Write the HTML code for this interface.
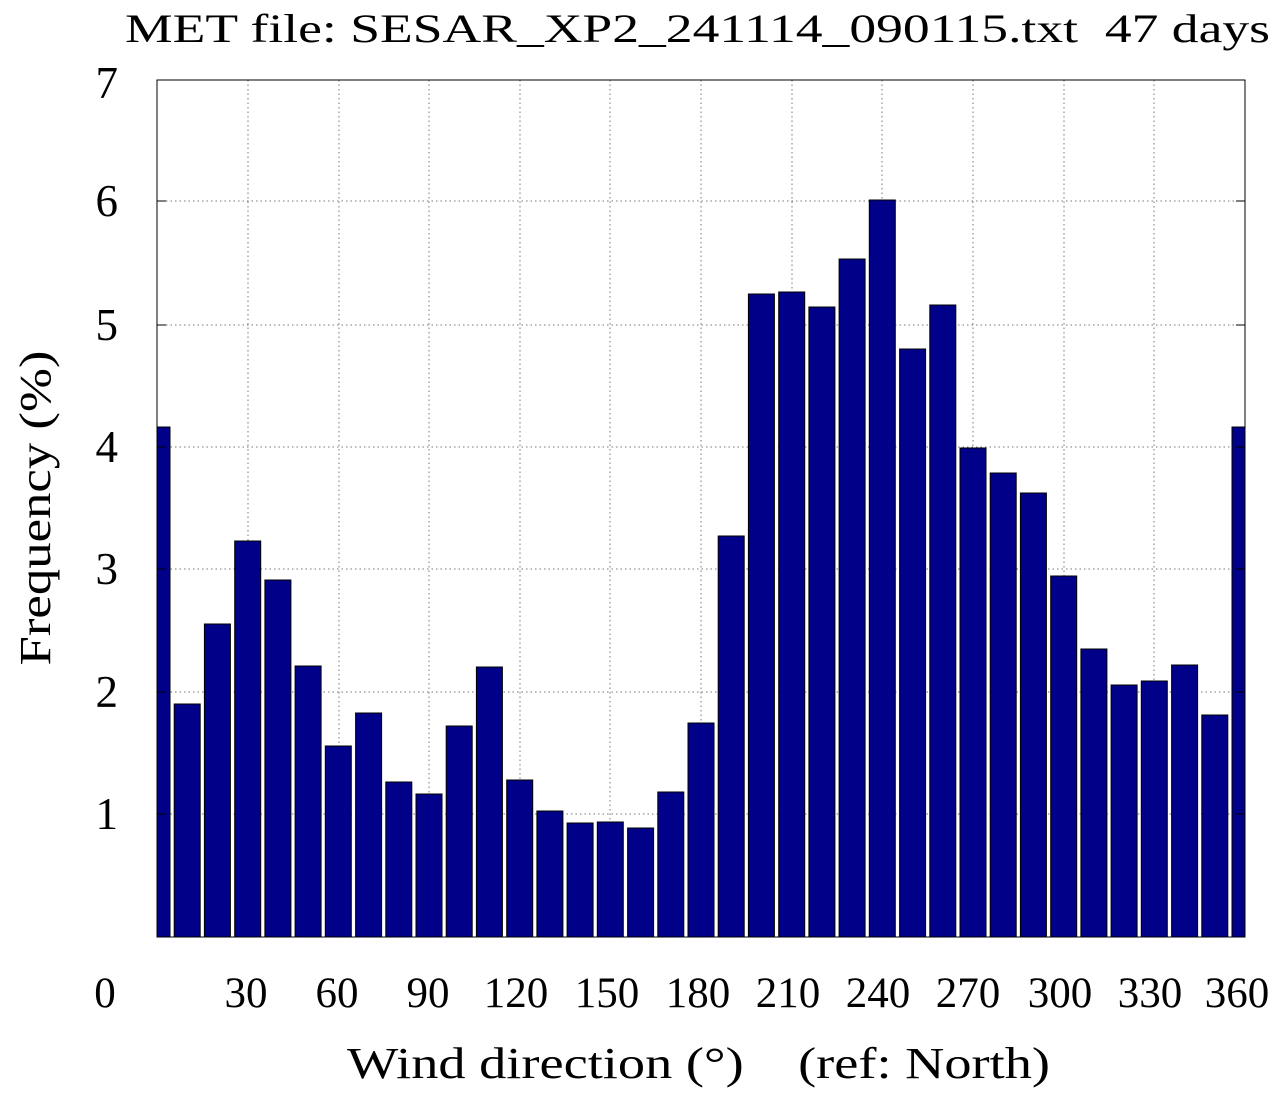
<!DOCTYPE html>
<html><head><meta charset="utf-8"><style>body{margin:0;background:#fff}svg{display:block}</style></head>
<body>
<svg width="1280" height="1093" xmlns="http://www.w3.org/2000/svg" font-family="Liberation Serif, serif">
<defs><clipPath id="c"><rect x="157" y="80" width="1088" height="857"/></clipPath></defs>
<g stroke="#777" stroke-width="1" stroke-dasharray="1.5,3">
<line x1="157" x2="1245" y1="814" y2="814"/><line x1="157" x2="1245" y1="692" y2="692"/>
<line x1="157" x2="1245" y1="569" y2="569"/><line x1="157" x2="1245" y1="447" y2="447"/>
<line x1="157" x2="1245" y1="325" y2="325"/><line x1="157" x2="1245" y1="201" y2="201"/>
<line x1="248" x2="248" y1="80" y2="937"/><line x1="339" x2="339" y1="80" y2="937"/>
<line x1="429" x2="429" y1="80" y2="937"/><line x1="520" x2="520" y1="80" y2="937"/>
<line x1="610" x2="610" y1="80" y2="937"/><line x1="701" x2="701" y1="80" y2="937"/>
<line x1="792" x2="792" y1="80" y2="937"/><line x1="882" x2="882" y1="80" y2="937"/>
<line x1="973" x2="973" y1="80" y2="937"/><line x1="1064" x2="1064" y1="80" y2="937"/>
<line x1="1154" x2="1154" y1="80" y2="937"/>
</g>
<g clip-path="url(#c)" fill="#000088" stroke="#000" stroke-width="1">
<rect x="144" y="427" width="26" height="510"/>
<rect x="174.2" y="704" width="26" height="233"/>
<rect x="204.4" y="624" width="26" height="313"/>
<rect x="234.7" y="541" width="26" height="396"/>
<rect x="264.9" y="580" width="26" height="357"/>
<rect x="295.1" y="666" width="26" height="271"/>
<rect x="325.3" y="746" width="26" height="191"/>
<rect x="355.6" y="713" width="26" height="224"/>
<rect x="385.8" y="782" width="26" height="155"/>
<rect x="416.0" y="794" width="26" height="143"/>
<rect x="446.2" y="726" width="26" height="211"/>
<rect x="476.4" y="667" width="26" height="270"/>
<rect x="506.7" y="780" width="26" height="157"/>
<rect x="536.9" y="811" width="26" height="126"/>
<rect x="567.1" y="823" width="26" height="114"/>
<rect x="597.3" y="822" width="26" height="115"/>
<rect x="627.6" y="828" width="26" height="109"/>
<rect x="657.8" y="792" width="26" height="145"/>
<rect x="688.0" y="723" width="26" height="214"/>
<rect x="718.2" y="536" width="26" height="401"/>
<rect x="748.4" y="294" width="26" height="643"/>
<rect x="778.7" y="292" width="26" height="645"/>
<rect x="808.9" y="307" width="26" height="630"/>
<rect x="839.1" y="259" width="26" height="678"/>
<rect x="869.3" y="200" width="26" height="737"/>
<rect x="899.6" y="349" width="26" height="588"/>
<rect x="929.8" y="305" width="26" height="632"/>
<rect x="960.0" y="448" width="26" height="489"/>
<rect x="990.2" y="473" width="26" height="464"/>
<rect x="1020.4" y="493" width="26" height="444"/>
<rect x="1050.7" y="576" width="26" height="361"/>
<rect x="1080.9" y="649" width="26" height="288"/>
<rect x="1111.1" y="685" width="26" height="252"/>
<rect x="1141.3" y="681" width="26" height="256"/>
<rect x="1171.6" y="665" width="26" height="272"/>
<rect x="1201.8" y="715" width="26" height="222"/>
<rect x="1232" y="427" width="26" height="510"/>
</g>
<rect x="157" y="80" width="1088" height="857" fill="none" stroke="#000" stroke-width="1"/>
<g stroke="#000">
<line x1="157" x2="166" y1="814" y2="814"/><line x1="157" x2="166" y1="692" y2="692"/><line x1="157" x2="166" y1="569" y2="569"/><line x1="157" x2="166" y1="447" y2="447"/><line x1="157" x2="166" y1="325" y2="325"/><line x1="157" x2="166" y1="201" y2="201"/>
<line x1="1236" x2="1245" y1="814" y2="814"/><line x1="1236" x2="1245" y1="692" y2="692"/><line x1="1236" x2="1245" y1="569" y2="569"/><line x1="1236" x2="1245" y1="447" y2="447"/><line x1="1236" x2="1245" y1="325" y2="325"/><line x1="1236" x2="1245" y1="201" y2="201"/>
</g>
<g font-size="45" text-anchor="end">
<text x="118" y="829">1</text><text x="118" y="707">2</text><text x="118" y="584">3</text><text x="118" y="462">4</text><text x="118" y="340">5</text><text x="118" y="216">6</text><text x="118" y="98">7</text>
</g>
<g font-size="43" text-anchor="middle">
<text x="105" y="1007">0</text><text x="246" y="1007">30</text><text x="337" y="1007">60</text><text x="428" y="1007">90</text><text x="516" y="1007">120</text><text x="607" y="1007">150</text><text x="698" y="1007">180</text><text x="788" y="1007">210</text><text x="878" y="1007">240</text><text x="968" y="1007">270</text><text x="1060" y="1007">300</text><text x="1150" y="1007">330</text><text x="1237" y="1007">360</text>
</g>
<text x="125" y="42" font-size="40" textLength="1145" lengthAdjust="spacingAndGlyphs" xml:space="preserve">MET file: SESAR_XP2_241114_090115.txt  47 days</text>
<text x="347" y="1078" font-size="44" textLength="703" lengthAdjust="spacingAndGlyphs" xml:space="preserve">Wind direction (°)    (ref: North)</text>
<text transform="translate(50,508) rotate(-90)" font-size="44" text-anchor="middle" textLength="315" lengthAdjust="spacingAndGlyphs">Frequency (%)</text>
</svg>
</body></html>
